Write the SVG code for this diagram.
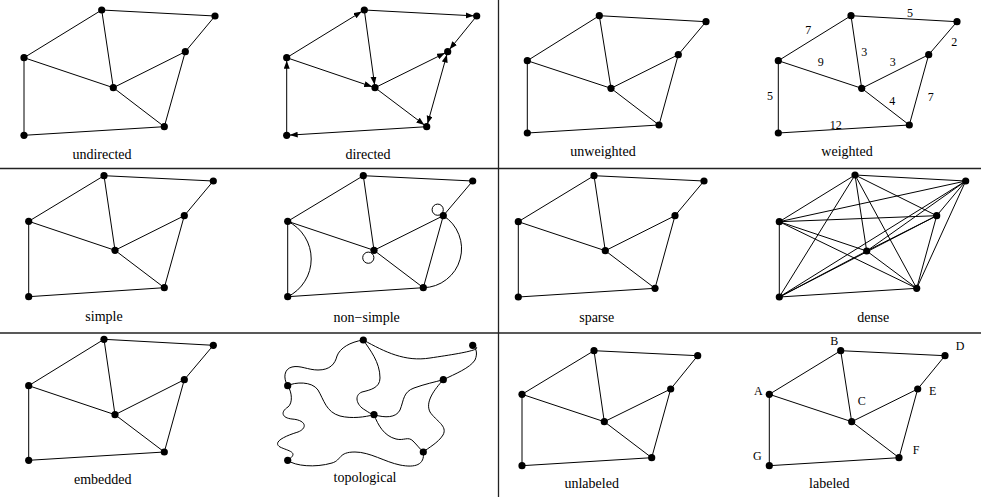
<svg xmlns="http://www.w3.org/2000/svg" xmlns:xlink="http://www.w3.org/1999/xlink" width="981" height="497" viewBox="0 0 981 497">
<style>
.e{stroke:#000;stroke-width:1;fill:none}
.d{stroke:#222;stroke-width:1.3}
.cap{font-family:"Liberation Serif","Times New Roman",serif;font-size:14px;text-anchor:middle;fill:#000}
.w{font-family:"Liberation Serif","Times New Roman",serif;font-size:12px;text-anchor:middle;fill:#000}
.ar{marker-end:url(#ah)}
</style>
<defs>
<circle id="dot" r="3.6" fill="#000"/>
<marker id="ah" markerUnits="userSpaceOnUse" markerWidth="14" markerHeight="8" refX="11" refY="3" orient="auto-start-reverse"><path d="M0,0 L8,3 L0,6 z" fill="#000"/></marker>
</defs>
<rect width="981" height="497" fill="#fff"/>
<g id="dividers">
<line class="d" x1="498.5" y1="0" x2="498.5" y2="497"/>
<line class="d" x1="0" y1="168.5" x2="981" y2="168.5"/>
<line class="d" x1="0" y1="333" x2="981" y2="333"/>
</g>

<!-- Panel 1 undirected -->
<g id="connectors-p1" class="e">
<line x1="24" y1="57.7" x2="101.7" y2="10"/><line x1="101.7" y1="10" x2="215" y2="16"/><line x1="101.7" y1="10" x2="113.3" y2="87.7"/><line x1="24" y1="57.7" x2="113.3" y2="87.7"/><line x1="113.3" y1="87.7" x2="185.3" y2="51.7"/><line x1="215" y1="16" x2="185.3" y2="51.7"/><line x1="185.3" y1="51.7" x2="164.3" y2="126.7"/><line x1="113.3" y1="87.7" x2="164.3" y2="126.7"/><line x1="164.3" y1="126.7" x2="24" y2="135.3"/><line x1="24" y1="135.3" x2="24" y2="57.7"/>
</g>
<g id="p1-A"><use href="#dot" x="24" y="57.7"/></g><g id="p1-B"><use href="#dot" x="101.7" y="10"/></g><g id="p1-C"><use href="#dot" x="113.3" y="87.7"/></g><g id="p1-D"><use href="#dot" x="215" y="16"/></g><g id="p1-E"><use href="#dot" x="185.3" y="51.7"/></g><g id="p1-F"><use href="#dot" x="164.3" y="126.7"/></g><g id="p1-G"><use href="#dot" x="24" y="135.3"/></g>
<text class="cap" x="102" y="158.5">undirected</text>

<!-- Panel 2 directed -->
<g id="connectors-p2" class="e">
<line class="ar" x1="286.7" y1="57.7" x2="364.3" y2="10"/><line class="ar" x1="364.3" y1="10" x2="476.7" y2="16"/><line class="ar" x1="364.3" y1="10" x2="375" y2="87.7"/><line class="ar" x1="286.7" y1="57.7" x2="375" y2="87.7"/><line class="ar" x1="375" y1="87.7" x2="447.7" y2="51.7"/><line class="ar" x1="476.7" y1="16" x2="447.7" y2="51.7"/><line class="ar" x1="447.7" y1="51.7" x2="426.7" y2="126.7" marker-start="url(#ah)"/><line class="ar" x1="375" y1="87.7" x2="426.7" y2="126.7"/><line class="ar" x1="426.7" y1="126.7" x2="286.7" y2="135.3"/><line class="ar" x1="286.7" y1="135.3" x2="286.7" y2="57.7"/>
</g>
<g id="p2-A"><use href="#dot" x="286.7" y="57.7"/></g><g id="p2-B"><use href="#dot" x="364.3" y="10"/></g><g id="p2-C"><use href="#dot" x="375" y="87.7"/></g><g id="p2-D"><use href="#dot" x="476.7" y="16"/></g><g id="p2-E"><use href="#dot" x="447.7" y="51.7"/></g><g id="p2-F"><use href="#dot" x="426.7" y="126.7"/></g><g id="p2-G"><use href="#dot" x="286.7" y="135.3"/></g>
<text class="cap" x="368" y="158.5">directed</text>

<!-- Panel 3 unweighted -->
<g id="connectors-p3" class="e">
<line x1="527.3" y1="60.7" x2="599.3" y2="15.7"/><line x1="599.3" y1="15.7" x2="706" y2="21.7"/><line x1="599.3" y1="15.7" x2="611" y2="88.3"/><line x1="527.3" y1="60.7" x2="611" y2="88.3"/><line x1="611" y1="88.3" x2="678.3" y2="54.7"/><line x1="706" y1="21.7" x2="678.3" y2="54.7"/><line x1="678.3" y1="54.7" x2="659" y2="125"/><line x1="611" y1="88.3" x2="659" y2="125"/><line x1="659" y1="125" x2="527.3" y2="133"/><line x1="527.3" y1="133" x2="527.3" y2="60.7"/>
</g>
<g id="p3-A"><use href="#dot" x="527.3" y="60.7"/></g><g id="p3-B"><use href="#dot" x="599.3" y="15.7"/></g><g id="p3-C"><use href="#dot" x="611" y="88.3"/></g><g id="p3-D"><use href="#dot" x="706" y="21.7"/></g><g id="p3-E"><use href="#dot" x="678.3" y="54.7"/></g><g id="p3-F"><use href="#dot" x="659" y="125"/></g><g id="p3-G"><use href="#dot" x="527.3" y="133"/></g>
<text class="cap" x="603" y="155.5">unweighted</text>

<!-- Panel 4 weighted -->
<g id="connectors-p4" class="e">
<line x1="778.3" y1="60.7" x2="851" y2="15.7"/><line x1="851" y1="15.7" x2="957" y2="21.7"/><line x1="851" y1="15.7" x2="861.7" y2="88.3"/><line x1="778.3" y1="60.7" x2="861.7" y2="88.3"/><line x1="861.7" y1="88.3" x2="928.7" y2="54.7"/><line x1="957" y1="21.7" x2="928.7" y2="54.7"/><line x1="928.7" y1="54.7" x2="909.3" y2="125"/><line x1="861.7" y1="88.3" x2="909.3" y2="125"/><line x1="909.3" y1="125" x2="778.3" y2="133"/><line x1="778.3" y1="133" x2="778.3" y2="60.7"/>
</g>
<g id="p4-A"><use href="#dot" x="778.3" y="60.7"/></g><g id="p4-B"><use href="#dot" x="851" y="15.7"/></g><g id="p4-C"><use href="#dot" x="861.7" y="88.3"/></g><g id="p4-D"><use href="#dot" x="957" y="21.7"/></g><g id="p4-E"><use href="#dot" x="928.7" y="54.7"/></g><g id="p4-F"><use href="#dot" x="909.3" y="125"/></g><g id="p4-G"><use href="#dot" x="778.3" y="133"/></g>
<g id="p4-weights">
<text class="w" x="808.3" y="33.5">7</text><text class="w" x="910" y="17">5</text><text class="w" x="954.3" y="45.5">2</text><text class="w" x="864.3" y="56">3</text><text class="w" x="820.7" y="66">9</text><text class="w" x="892.7" y="66">3</text><text class="w" x="770" y="100">5</text><text class="w" x="892.3" y="105">4</text><text class="w" x="930.7" y="101">7</text><text class="w" x="835.7" y="128.5">12</text>
</g>
<text class="cap" x="847" y="155.5">weighted</text>

<!-- Panel 5 simple -->
<g id="connectors-p5" class="e">
<line x1="28.7" y1="221.3" x2="104" y2="175.7"/><line x1="104" y1="175.7" x2="213.3" y2="181"/><line x1="104" y1="175.7" x2="115" y2="250.3"/><line x1="28.7" y1="221.3" x2="115" y2="250.3"/><line x1="115" y1="250.3" x2="184.3" y2="215.7"/><line x1="213.3" y1="181" x2="184.3" y2="215.7"/><line x1="184.3" y1="215.7" x2="164.3" y2="287.7"/><line x1="115" y1="250.3" x2="164.3" y2="287.7"/><line x1="164.3" y1="287.7" x2="28.7" y2="296.7"/><line x1="28.7" y1="296.7" x2="28.7" y2="221.3"/>
</g>
<g id="p5-A"><use href="#dot" x="28.7" y="221.3"/></g><g id="p5-B"><use href="#dot" x="104" y="175.7"/></g><g id="p5-C"><use href="#dot" x="115" y="250.3"/></g><g id="p5-D"><use href="#dot" x="213.3" y="181"/></g><g id="p5-E"><use href="#dot" x="184.3" y="215.7"/></g><g id="p5-F"><use href="#dot" x="164.3" y="287.7"/></g><g id="p5-G"><use href="#dot" x="28.7" y="296.7"/></g>
<text class="cap" x="104" y="320.5">simple</text>

<!-- Panel 6 non-simple -->
<g id="connectors-p6" class="e">
<line x1="287.7" y1="221.3" x2="363.3" y2="175.7"/><line x1="363.3" y1="175.7" x2="472.7" y2="181"/><line x1="363.3" y1="175.7" x2="374" y2="250.3"/><line x1="287.7" y1="221.3" x2="374" y2="250.3"/><line x1="374" y1="250.3" x2="443.3" y2="215.7"/><line x1="472.7" y1="181" x2="443.3" y2="215.7"/><line x1="443.3" y1="215.7" x2="423.3" y2="287.7"/><line x1="374" y1="250.3" x2="423.3" y2="287.7"/><line x1="423.3" y1="287.7" x2="287.7" y2="296.7"/><line x1="287.7" y1="296.7" x2="287.7" y2="221.3"/>
<path d="M287.7,221.3 A42,42 0 0 1 287.7,296.7"/>
<path d="M443.3,215.7 A39,39 0 0 1 423.3,287.7"/>
<circle cx="368.3" cy="257.7" r="5.6"/>
<circle cx="437.7" cy="209.7" r="5.6"/>
</g>
<g id="p6-A"><use href="#dot" x="287.7" y="221.3"/></g><g id="p6-B"><use href="#dot" x="363.3" y="175.7"/></g><g id="p6-C"><use href="#dot" x="374" y="250.3"/></g><g id="p6-D"><use href="#dot" x="472.7" y="181"/></g><g id="p6-E"><use href="#dot" x="443.3" y="215.7"/></g><g id="p6-F"><use href="#dot" x="423.3" y="287.7"/></g><g id="p6-G"><use href="#dot" x="287.7" y="296.7"/></g>
<text class="cap" x="366.7" y="321.5">non−simple</text>

<!-- Panel 7 sparse -->
<g id="connectors-p7" class="e">
<line x1="518.3" y1="221.7" x2="594" y2="175.7"/><line x1="594" y1="175.7" x2="704" y2="181"/><line x1="594" y1="175.7" x2="605.3" y2="250.7"/><line x1="518.3" y1="221.7" x2="605.3" y2="250.7"/><line x1="605.3" y1="250.7" x2="675" y2="215.7"/><line x1="704" y1="181" x2="675" y2="215.7"/><line x1="675" y1="215.7" x2="655" y2="288.3"/><line x1="605.3" y1="250.7" x2="655" y2="288.3"/><line x1="655" y1="288.3" x2="518.3" y2="297"/><line x1="518.3" y1="297" x2="518.3" y2="221.7"/>
</g>
<g id="p7-A"><use href="#dot" x="518.3" y="221.7"/></g><g id="p7-B"><use href="#dot" x="594" y="175.7"/></g><g id="p7-C"><use href="#dot" x="605.3" y="250.7"/></g><g id="p7-D"><use href="#dot" x="704" y="181"/></g><g id="p7-E"><use href="#dot" x="675" y="215.7"/></g><g id="p7-F"><use href="#dot" x="655" y="288.3"/></g><g id="p7-G"><use href="#dot" x="518.3" y="297"/></g>
<text class="cap" x="596.7" y="321.5">sparse</text>

<!-- Panel 8 dense (complete graph) -->
<g id="connectors-p8" class="e">
<line x1="779.3" y1="221.7" x2="855" y2="175"/><line x1="779.3" y1="221.7" x2="866.7" y2="251"/><line x1="779.3" y1="221.7" x2="965.7" y2="181"/><line x1="779.3" y1="221.7" x2="936.7" y2="215.7"/><line x1="779.3" y1="221.7" x2="916.7" y2="288.3"/><line x1="779.3" y1="221.7" x2="779.3" y2="297"/>
<line x1="855" y1="175" x2="866.7" y2="251"/><line x1="855" y1="175" x2="965.7" y2="181"/><line x1="855" y1="175" x2="936.7" y2="215.7"/><line x1="855" y1="175" x2="916.7" y2="288.3"/><line x1="855" y1="175" x2="779.3" y2="297"/>
<line x1="866.7" y1="251" x2="965.7" y2="181"/><line x1="866.7" y1="251" x2="936.7" y2="215.7"/><line x1="866.7" y1="251" x2="916.7" y2="288.3"/><line x1="866.7" y1="251" x2="779.3" y2="297"/>
<line x1="965.7" y1="181" x2="936.7" y2="215.7"/><line x1="965.7" y1="181" x2="916.7" y2="288.3"/><line x1="965.7" y1="181" x2="779.3" y2="297"/>
<line x1="936.7" y1="215.7" x2="916.7" y2="288.3"/><line x1="936.7" y1="215.7" x2="779.3" y2="297"/>
<line x1="916.7" y1="288.3" x2="779.3" y2="297"/>
</g>
<g id="p8-A"><use href="#dot" x="779.3" y="221.7"/></g><g id="p8-B"><use href="#dot" x="855" y="175"/></g><g id="p8-C"><use href="#dot" x="866.7" y="251"/></g><g id="p8-D"><use href="#dot" x="965.7" y="181"/></g><g id="p8-E"><use href="#dot" x="936.7" y="215.7"/></g><g id="p8-F"><use href="#dot" x="916.7" y="288.3"/></g><g id="p8-G"><use href="#dot" x="779.3" y="297"/></g>
<text class="cap" x="873.3" y="321.7">dense</text>

<!-- Panel 9 embedded -->
<g id="connectors-p9" class="e">
<line x1="28.7" y1="385.7" x2="104" y2="339.3"/><line x1="104" y1="339.3" x2="213.3" y2="345.3"/><line x1="104" y1="339.3" x2="115" y2="414.7"/><line x1="28.7" y1="385.7" x2="115" y2="414.7"/><line x1="115" y1="414.7" x2="184.3" y2="379.7"/><line x1="213.3" y1="345.3" x2="184.3" y2="379.7"/><line x1="184.3" y1="379.7" x2="164.3" y2="452"/><line x1="115" y1="414.7" x2="164.3" y2="452"/><line x1="164.3" y1="452" x2="28.7" y2="460.3"/><line x1="28.7" y1="460.3" x2="28.7" y2="385.7"/>
</g>
<g id="p9-A"><use href="#dot" x="28.7" y="385.7"/></g><g id="p9-B"><use href="#dot" x="104" y="339.3"/></g><g id="p9-C"><use href="#dot" x="115" y="414.7"/></g><g id="p9-D"><use href="#dot" x="213.3" y="345.3"/></g><g id="p9-E"><use href="#dot" x="184.3" y="379.7"/></g><g id="p9-F"><use href="#dot" x="164.3" y="452"/></g><g id="p9-G"><use href="#dot" x="28.7" y="460.3"/></g>
<text class="cap" x="102.7" y="484">embedded</text>

<!-- Panel 10 topological -->
<g id="connectors-p10" class="e">
<path d="M363.3,340 C385,352 405,362 430,358 C450,355 470,352 476,349 C478,347 475,346 472.7,345.3"/>
<path d="M363.3,340 C350,342 340,348 337,356 C335,364 330,370 318,370 C308,370 300,365 292,367 C284,369 283,378 287.7,385.7"/>
<path d="M363.3,340 C370,350 380,362 380,378 C380,388 370,390 362,392 C354,395 356,405 365,410 C368,412 371,414 374,414.7"/>
<path d="M287.7,385.7 C295,382 312,381 318,390 C324,400 326,412 340,416 C352,419 365,417 374,414.7"/>
<path d="M287.7,385.7 C292,392 293,403 288,407 C280,412 282,418 292,419 C306,420 308,428 298,432 C285,436 272,442 280,447 C288,451 300,452 287.7,460.3"/>
<path d="M287.7,460.3 C295,466 315,468 332,463 C342,460 338,452 355,452 C370,452 385,462 400,465 C415,468 425,465 423.3,452"/>
<path d="M374,414.7 C378,425 384,436 396,439 C404,441 408,436 413,441 C417,445 420,449 423.3,452"/>
<path d="M374,414.7 C385,418 396,418 400,410 C404,400 403,392 414,388 C425,384 435,382 443.3,379.7"/>
<path d="M443.3,379.7 C434,390 425,402 430,412 C436,421 448,426 443,435 C438,443 428,448 423.3,452"/>
<path d="M443.3,379.7 C455,374 470,368 475,360 C478,353 476,348 472.7,345.3"/>
</g>
<g id="p10-A"><use href="#dot" x="287.7" y="385.7"/></g><g id="p10-B"><use href="#dot" x="363.3" y="340"/></g><g id="p10-C"><use href="#dot" x="374" y="414.7"/></g><g id="p10-D"><use href="#dot" x="472.7" y="345.3"/></g><g id="p10-E"><use href="#dot" x="443.3" y="379.7"/></g><g id="p10-F"><use href="#dot" x="423.3" y="452"/></g><g id="p10-G"><use href="#dot" x="287.7" y="460.3"/></g>
<text class="cap" x="365" y="482">topological</text>

<!-- Panel 11 unlabeled -->
<g id="connectors-p11" class="e">
<line x1="522" y1="394.3" x2="594" y2="350.7"/><line x1="594" y1="350.7" x2="697.7" y2="355.7"/><line x1="594" y1="350.7" x2="604.3" y2="421.7"/><line x1="522" y1="394.3" x2="604.3" y2="421.7"/><line x1="604.3" y1="421.7" x2="670.7" y2="389"/><line x1="697.7" y1="355.7" x2="670.7" y2="389"/><line x1="670.7" y1="389" x2="651.7" y2="457.7"/><line x1="604.3" y1="421.7" x2="651.7" y2="457.7"/><line x1="651.7" y1="457.7" x2="522" y2="465.7"/><line x1="522" y1="465.7" x2="522" y2="394.3"/>
</g>
<g id="p11-A"><use href="#dot" x="522" y="394.3"/></g><g id="p11-B"><use href="#dot" x="594" y="350.7"/></g><g id="p11-C"><use href="#dot" x="604.3" y="421.7"/></g><g id="p11-D"><use href="#dot" x="697.7" y="355.7"/></g><g id="p11-E"><use href="#dot" x="670.7" y="389"/></g><g id="p11-F"><use href="#dot" x="651.7" y="457.7"/></g><g id="p11-G"><use href="#dot" x="522" y="465.7"/></g>
<text class="cap" x="591.7" y="488">unlabeled</text>

<!-- Panel 12 labeled -->
<g id="connectors-p12" class="e">
<line x1="769.3" y1="394.3" x2="840.7" y2="350.7"/><line x1="840.7" y1="350.7" x2="945" y2="355.7"/><line x1="840.7" y1="350.7" x2="851.7" y2="421.7"/><line x1="769.3" y1="394.3" x2="851.7" y2="421.7"/><line x1="851.7" y1="421.7" x2="917.7" y2="389"/><line x1="945" y1="355.7" x2="917.7" y2="389"/><line x1="917.7" y1="389" x2="899" y2="457.7"/><line x1="851.7" y1="421.7" x2="899" y2="457.7"/><line x1="899" y1="457.7" x2="769.3" y2="465.7"/><line x1="769.3" y1="465.7" x2="769.3" y2="394.3"/>
</g>
<g id="p12-A"><use href="#dot" x="769.3" y="394.3"/><text class="w" x="758.3" y="395.3">A</text></g>
<g id="p12-B"><use href="#dot" x="840.7" y="350.7"/><text class="w" x="834.3" y="345.3">B</text></g>
<g id="p12-C"><use href="#dot" x="851.7" y="421.7"/><text class="w" x="861.7" y="405.3">C</text></g>
<g id="p12-D"><use href="#dot" x="945" y="355.7"/><text class="w" x="960" y="350.3">D</text></g>
<g id="p12-E"><use href="#dot" x="917.7" y="389"/><text class="w" x="932.7" y="395.3">E</text></g>
<g id="p12-F"><use href="#dot" x="899" y="457.7"/><text class="w" x="916" y="453.6">F</text></g>
<g id="p12-G"><use href="#dot" x="769.3" y="465.7"/><text class="w" x="757.3" y="460.3">G</text></g>
<text class="cap" x="829.3" y="488">labeled</text>
</svg>
